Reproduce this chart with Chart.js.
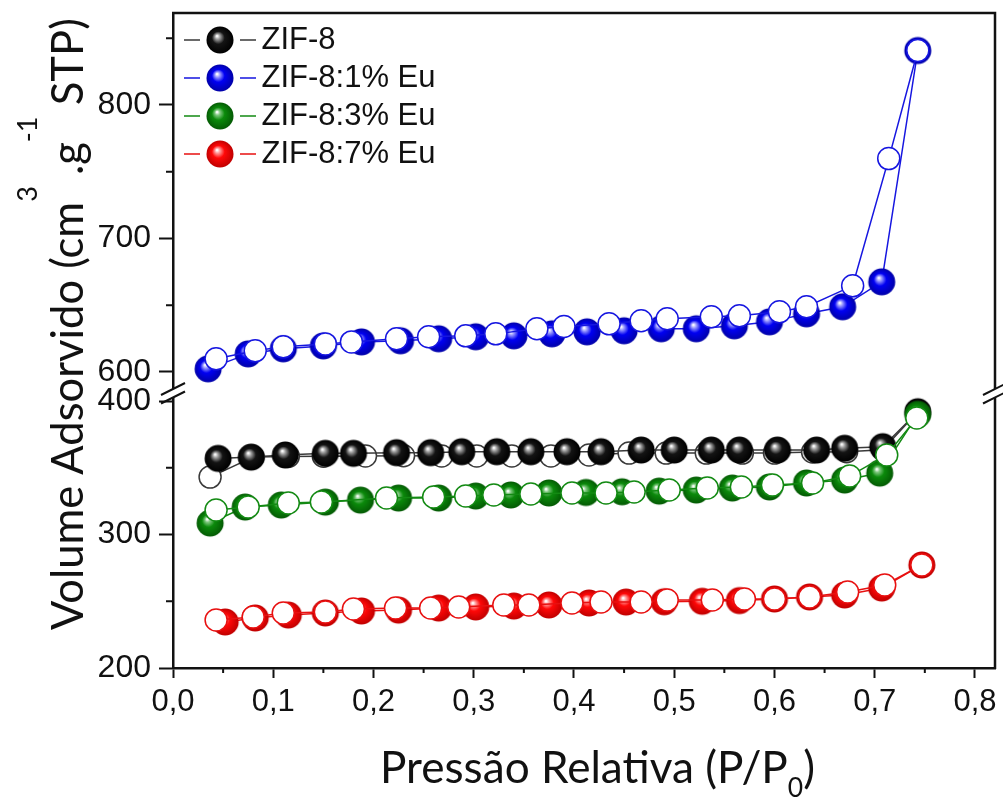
<!DOCTYPE html>
<html>
<head>
<meta charset="utf-8">
<script src="https://cdn.jsdelivr.net/npm/chart.js@4.4.1/dist/chart.umd.min.js"></script>
<style>
  html,body{margin:0;padding:0;background:#fff}
  #wrap{width:1003px;height:798px}
</style>
</head>
<body>
<div id="wrap"><canvas id="c" width="1003" height="798"></canvas></div>
<script>
// ---- Data ----
const seriesNames = ['ZIF-8', 'ZIF-8:1% Eu', 'ZIF-8:3% Eu', 'ZIF-8:7% Eu'];
const xTickLabels = ['0,0','0,1','0,2','0,3','0,4','0,5','0,6','0,7','0,8'];
const yLowTickLabels = ['200','300','400'];
const yHighTickLabels = ['600','700','800'];

// ZIF-8
const zifAdsP = [0.045,0.078,0.112,0.152,0.180,0.223,0.257,0.288,0.323,0.357,0.393,0.427,0.467,0.500,0.537,0.565,0.603,0.642,0.670,0.708,0.743];
const zifAdsV = [357,358,359.6,360.8,360.8,361.3,361.3,362,362,362,362,362,363.3,363.3,363.3,363.3,363.3,363.3,364.6,365.8,392];
const zifDesP = [0.743,0.708,0.672,0.638,0.600,0.568,0.532,0.492,0.455,0.415,0.377,0.338,0.303,0.268,0.230,0.192,0.150,0.115,0.080,0.037];
const zifDesV = [392,363.5,362,361.8,361,361,361,361,361,359.6,358.8,358.8,358.8,358.8,359,358.8,358.6,358.5,358,343];

// ZIF-8:1% Eu (upper axis)
const eu1AdsP = [0.035,0.075,0.110,0.150,0.188,0.227,0.265,0.302,0.340,0.378,0.413,0.450,0.487,0.522,0.560,0.595,0.632,0.668,0.707,0.743];
const eu1AdsV = [602.3,613.5,617.3,619.5,622.5,623.3,624.8,626.3,627,628.5,630,630.8,632.3,632.3,634.5,637.5,643.5,648.8,667.5,840.8];
const eu1DesP = [0.743,0.714,0.678,0.632,0.605,0.565,0.537,0.493,0.467,0.435,0.390,0.363,0.322,0.292,0.255,0.223,0.178,0.152,0.110,0.082,0.043];
const eu1DesV = [840.8,759.8,664.5,648.8,645,642,641.3,639.8,638.3,636,634,632.3,628.5,627,626.3,624.8,622.5,621,618.8,615.8,609.8];

// ZIF-8:3% Eu
const eu3AdsP = [0.037,0.072,0.108,0.152,0.187,0.225,0.265,0.302,0.337,0.375,0.412,0.448,0.485,0.522,0.558,0.595,0.632,0.670,0.705,0.743];
const eu3AdsV = [308.6,320.6,322.1,324.3,325.8,327.3,327.3,328.8,329.6,331.1,331.5,332,332.5,333.3,334.8,335.6,338.6,340.8,346,390];
const eu3DesP = [0.742,0.712,0.675,0.638,0.598,0.567,0.533,0.495,0.460,0.432,0.398,0.357,0.320,0.292,0.260,0.213,0.148,0.115,0.075,0.043];
const eu3DesV = [387.3,359.6,343.8,338.6,337,335.6,334.8,333.3,331.8,331.1,331.1,330.3,329.6,328.8,328.1,327.3,324.3,323.6,320.6,318.4];

// ZIF-8:7% Eu
const eu7AdsP = [0.052,0.082,0.115,0.152,0.188,0.225,0.265,0.302,0.340,0.375,0.415,0.452,0.490,0.528,0.565,0.600,0.635,0.670,0.707,0.747];
const eu7AdsV = [234.5,237.5,239.7,241.2,242.7,243.4,244.9,245.7,246.4,247.2,248.7,249.4,249.6,250,250.5,251.7,253.2,254.7,259.9,277.2];
const eu7DesP = [0.747,0.710,0.673,0.635,0.600,0.570,0.538,0.493,0.467,0.427,0.398,0.355,0.330,0.285,0.257,0.222,0.180,0.152,0.110,0.080,0.043];
const eu7DesV = [277.2,262.2,256.9,253.2,251.7,251.7,250.9,250.9,249.4,249.4,248.7,247.2,247.2,245.7,244.9,244.9,244.2,242,241.2,238.2,236];

// ---- Marker images ----
function ballImage(base, dark, light) {
  const s = 30, r = 13.5;
  const c = document.createElement('canvas'); c.width = s; c.height = s;
  const g = c.getContext('2d');
  const grad = g.createRadialGradient(s/2-3, s/2-4, 0.5, s/2, s/2, r);
  grad.addColorStop(0, '#ffffff');
  grad.addColorStop(0.16, light);
  grad.addColorStop(0.45, base);
  grad.addColorStop(1, dark);
  g.fillStyle = grad;
  g.beginPath(); g.arc(s/2, s/2, r, 0, Math.PI*2); g.fill();
  return c;
}
function legendImage(ball, line) {
  // 82 wide, content in the right 72px so the icon sits where the figure has it
  const c = document.createElement('canvas'); c.width = 82; c.height = 30;
  const g = c.getContext('2d');
  g.strokeStyle = line; g.lineWidth = 1.6;
  g.beginPath(); g.moveTo(10, 15); g.lineTo(26, 15); g.moveTo(66, 15); g.lineTo(82, 15); g.stroke();
  g.drawImage(ball, 46 - 15, 0);
  return c;
}

const looks = [
  {ball: ballImage('#141414', '#000000', '#a0a0a0'), line: '#3a3a3a'},
  {ball: ballImage('#0000f2', '#0000a8', '#9a9aff'), line: '#1616e0'},
  {ball: ballImage('#0b8a0b', '#045a04', '#80c880'), line: '#138a13'},
  {ball: ballImage('#ff0808', '#c00000', '#ff9a9a'), line: '#e81010'}
];
looks.forEach(l => l.legend = legendImage(l.ball, l.line));

const pts = (p, v) => p.map((x, i) => ({x, y: v[i]}));

function filled(i, p, v, axis, order) {
  return { label: seriesNames[i], data: pts(p, v), yAxisID: axis, order,
    showLine: true, borderColor: looks[i].line, borderWidth: 1.5,
    pointStyle: looks[i].ball, pointRadius: 13, pointHoverRadius: 13 };
}
function open(i, p, v, axis, order) {
  return { label: seriesNames[i] + ' des', data: pts(p, v), yAxisID: axis, order,
    showLine: true, borderColor: looks[i].line, borderWidth: 1.5,
    pointStyle: 'circle', pointRadius: 11, pointHoverRadius: 11,
    pointBackgroundColor: '#ffffff', pointBorderColor: looks[i].line, pointBorderWidth: 1.5 };
}

const datasets = [
  filled(0, zifAdsP, zifAdsV, 'yLow', 6),
  open(0, zifDesP, zifDesV, 'yLow', 7),
  filled(1, eu1AdsP, eu1AdsV, 'yHigh', 5),
  open(1, eu1DesP, eu1DesV, 'yHigh', 4),
  filled(2, eu3AdsP, eu3AdsV, 'yLow', 1),
  open(2, eu3DesP, eu3DesV, 'yLow', 0),
  filled(3, eu7AdsP, eu7AdsV, 'yLow', 3),
  open(3, eu7DesP, eu7DesV, 'yLow', 2)
];

const INK = '#111111';
const tickFont = {family: '"Liberation Sans", Arial, sans-serif', size: 32};
const titleFam = 'Lato, "Open Sans", sans-serif';

// minor ticks return null -> no label and no tick mark (drawn shorter by the plugin)
function yLabel(list) {
  return v => { const s = String(Math.round(v)); return list.includes(s) ? s : null; };
}
function noPadY(s) { s.width = 173; s.paddingTop = 0; s.paddingBottom = 0; }

// ---- Frame, breaks, minor ticks and axis titles ----
const decor = {
  id: 'decor',
  afterLayout(chart) {
    // put the legend inside the plot, top-left
    const lg = chart.legend;
    lg.left = 177; lg.top = 17.5;
  },
  afterDraw(chart) {
    const {ctx, chartArea: a, scales} = chart;
    const yb = scales.yHigh.bottom;
    ctx.save();
    ctx.strokeStyle = INK; ctx.lineCap = 'butt';

    // top + right frame
    ctx.lineWidth = 2.5;
    ctx.beginPath();
    ctx.moveTo(a.left - 1, a.top); ctx.lineTo(a.right, a.top); ctx.lineTo(a.right, a.bottom + 1);
    ctx.stroke();

    // minor ticks
    ctx.lineWidth = 2;
    ctx.beginPath();
    [[scales.yHigh, [650, 750, 850]], [scales.yLow, [250, 350]]].forEach(([s, vals]) => {
      vals.forEach(v => { const y = s.getPixelForValue(v); ctx.moveTo(a.left - 7, y); ctx.lineTo(a.left, y); });
    });
    [0.05, 0.15, 0.25, 0.35, 0.45, 0.55, 0.65, 0.75].forEach(v => {
      const x = scales.x.getPixelForValue(v); ctx.moveTo(x, a.bottom); ctx.lineTo(x, a.bottom + 5);
    });
    ctx.stroke();

    // axis breaks
    [a.left, a.right].forEach(x => {
      ctx.fillStyle = '#ffffff';
      ctx.fillRect(x - 3, yb - 4, 6, 8.5);
      ctx.lineWidth = 2;
      [yb - 4, yb + 4.5].forEach(y => {
        ctx.beginPath(); ctx.moveTo(x - 12, y + 6); ctx.lineTo(x + 12, y - 6); ctx.stroke();
      });
    });

    // x title with subscript
    ctx.fillStyle = INK; ctx.textAlign = 'left'; ctx.textBaseline = 'alphabetic';
    let S = 40;
    const xMain = 'Pressão Relativa (P/P', xEnd = ')';
    ctx.font = S + 'px ' + titleFam;
    let w = ctx.measureText(xMain).width + ctx.measureText(xEnd).width;
    ctx.font = (S * 0.6) + 'px ' + titleFam;
    w += ctx.measureText('0').width;
    S = S * 435 / w;
    let x0 = 380, base = 783;
    ctx.font = S + 'px ' + titleFam;
    ctx.fillText(xMain, x0, base);
    x0 += ctx.measureText(xMain).width;
    ctx.font = (S * 0.6) + 'px ' + titleFam;
    ctx.fillText('0', x0, base + 14);
    x0 += ctx.measureText('0').width;
    ctx.font = S + 'px ' + titleFam;
    ctx.fillText(xEnd, x0, base);

    // y title, rotated, with raised superscripts
    const parts = [
      ['Volume Adsorvido (cm', false], ['3', true], [' .g', false], ['-1', true], [' STP)', false]
    ];
    S = 40;
    const measure = (t, sup, sz) => { ctx.font = (sup ? sz * 0.62 : sz) + 'px ' + titleFam; return ctx.measureText(t).width; };
    let total = parts.reduce((s, [t, sup]) => s + measure(t, sup, S), 0);
    S = S * 612 / total;
    ctx.save();
    ctx.translate(83, 630);
    ctx.rotate(-Math.PI / 2);
    let u = 0;
    parts.forEach(([t, sup]) => {
      ctx.font = (sup ? S * 0.62 : S) + 'px ' + titleFam;
      ctx.fillText(t, u, sup ? -46 : 0);
      u += ctx.measureText(t).width;
    });
    ctx.restore();
    ctx.restore();
  }
};

new Chart(document.getElementById('c'), {
  type: 'scatter',
  data: {datasets},
  plugins: [decor],
  options: {
    responsive: false,
    animation: false,
    events: [],
    layout: {padding: {top: 13, right: 8, left: 0, bottom: 0}, autoPadding: false},
    plugins: {
      tooltip: {enabled: false},
      legend: {
        position: 'chartArea',
        align: 'start',
        labels: {
          usePointStyle: true,
          pointStyleWidth: 62,
          padding: 7,
          color: INK,
          font: {family: '"Liberation Sans", Arial, sans-serif', size: 31, lineHeight: 1.22},
          generateLabels: () => seriesNames.map((n, i) => ({
            text: n, pointStyle: looks[i].legend, fillStyle: 'rgba(0,0,0,0)',
            strokeStyle: 'rgba(0,0,0,0)', lineWidth: 0, hidden: false, datasetIndex: i * 2, fontColor: INK
          }))
        }
      }
    },
    scales: {
      x: {
        type: 'linear', min: 0, max: 0.82,
        border: {color: INK, width: 2.5},
        grid: {drawOnChartArea: false, tickLength: 10, tickWidth: 2, tickColor: INK},
        ticks: {
          stepSize: 0.05, autoSkip: false, includeBounds: false, maxRotation: 0, padding: 6,
          color: INK, font: {family: '"Liberation Sans", Arial, sans-serif', size: 31},
          callback: v => { const k = Math.round(v * 100); return k % 10 === 0 ? xTickLabels[k / 10] : null; }
        },
        afterFit: s => { s.height = 130; s.paddingLeft = 0; s.paddingRight = 0; }
      },
      yLow: {
        type: 'linear', position: 'left', stack: 'v', stackWeight: 275,
        min: 200, max: 406,
        border: {color: INK, width: 2.5},
        grid: {drawOnChartArea: false, tickLength: 14, tickWidth: 2, tickColor: INK},
        ticks: {stepSize: 50, autoSkip: false, includeBounds: false, padding: 8, color: INK, font: tickFont,
          callback: yLabel(yLowTickLabels)},
        afterFit: noPadY
      },
      yHigh: {
        type: 'linear', position: 'left', stack: 'v', stackWeight: 380,
        min: 584.2, max: 868.9,
        border: {color: INK, width: 2.5},
        grid: {drawOnChartArea: false, tickLength: 14, tickWidth: 2, tickColor: INK},
        ticks: {stepSize: 50, autoSkip: false, includeBounds: false, padding: 8, color: INK, font: tickFont,
          callback: yLabel(yHighTickLabels)},
        afterFit: noPadY
      }
    }
  }
});
</script>
</body>
</html>
